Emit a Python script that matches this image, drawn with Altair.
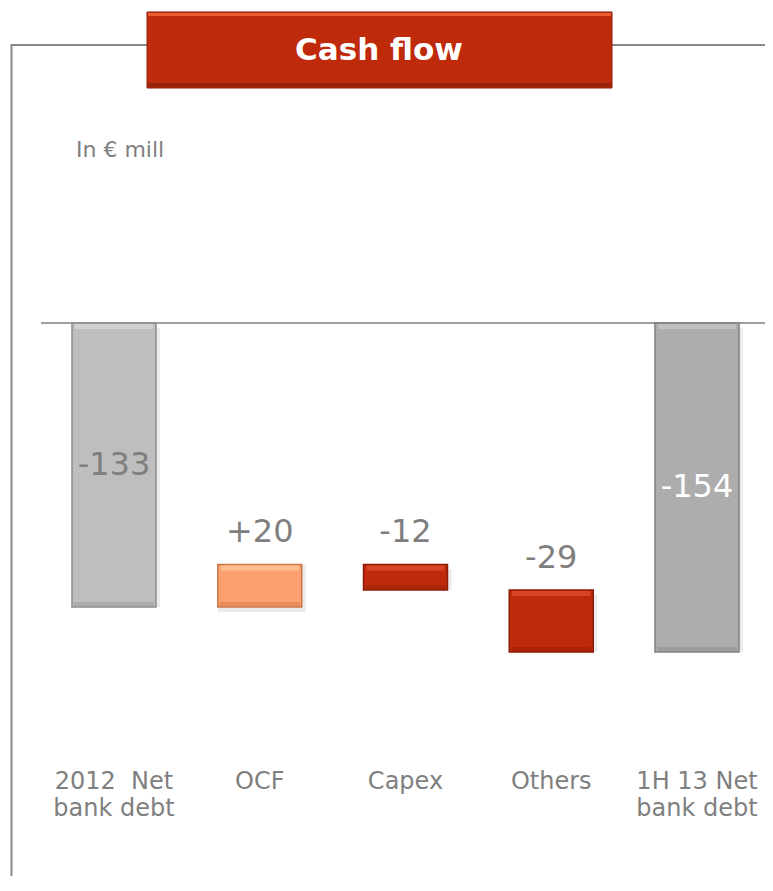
import altair as alt
import pandas as pd

# ---- data ----
categories = ["2012 \u00a0Net\nbank debt", "OCF", "Capex", "Others", "1H 13 Net\nbank debt"]
values = [-133, 20, -12, -29, -154]
kinds = ["total", "delta", "delta", "delta", "total"]
title_text = "Cash flow"
unit_text = "In € mill"

# ---- derived waterfall table ----
rows = []
running = 0
for i, (c, v, k) in enumerate(zip(categories, values, kinds)):
    if k == "total":
        start, end = 0, v
        running = v
    else:
        start, end = running, running + v
        running = end
    rows.append({"idx": i, "cat": c, "value": v, "kind": k,
                 "start": start, "end": end,
                 "top": max(start, end), "bot": min(start, end),
                 "mid": (start + end) / 2,
                 "label": f"{v:+d}"})
df = pd.DataFrame(rows)

# ---- style ----
W, H = 757, 868
FONT = "DejaVu Sans"
GRAY_TXT = "#7F7F7F"
bar_colors = ["#BEBEBE", "#FBA06E", "#BF2A0C", "#BF2A0C", "#ADADAD"]
bar_strokes = ["#8C8C8C", "#C9784A", "#8A1D06", "#8A1D06", "#808080"]
hi_colors = ["#D8D8D8", "#FFC7A2", "#E2512C", "#E2512C", "#C8C8C8"]
lo_colors = ["#A4A4A4", "#E38556", "#A3220A", "#A3220A", "#969696"]

xscale = alt.Scale(domain=[-0.7273, 4.4666], nice=False, zero=False, padding=0)
yscale = alt.Scale(domain=[-258.9, 147.5], nice=False, zero=False, padding=0)
idx_dom = list(range(5))

base = alt.Chart(df)
X = alt.X("idx:Q", scale=xscale, axis=None)

shadow = base.mark_bar(size=88, color="#E2E2E2", opacity=0.7, yOffset=5, xOffset=2).encode(
    x=X, y=alt.Y("start:Q", scale=yscale, axis=None), y2="end:Q",
)

bars = base.mark_bar(size=84, strokeWidth=1.5).encode(
    x=X,
    y=alt.Y("start:Q", scale=yscale, axis=None),
    y2="end:Q",
    color=alt.Color("idx:N", scale=alt.Scale(domain=idx_dom, range=bar_colors), legend=None),
    stroke=alt.Stroke("idx:N", scale=alt.Scale(domain=idx_dom, range=bar_strokes), legend=None),
)

hi = base.mark_tick(orient="horizontal", size=78, thickness=5, yOffset=3.5).encode(
    x=X, y=alt.Y("top:Q", scale=yscale, axis=None),
    color=alt.Color("idx:N", scale=alt.Scale(domain=idx_dom, range=hi_colors), legend=None),
)
lo = base.mark_tick(orient="horizontal", size=80, thickness=4, yOffset=-3).encode(
    x=X, y=alt.Y("bot:Q", scale=yscale, axis=None),
    color=alt.Color("idx:N", scale=alt.Scale(domain=idx_dom, range=lo_colors), legend=None),
)

delta_labels = base.transform_filter("datum.kind == 'delta'").mark_text(
    font=FONT, fontSize=32, color=GRAY_TXT, baseline="alphabetic", dy=-22
).encode(
    x=X, y=alt.Y("top:Q", scale=yscale, axis=None), text="label:N",
)

total_labels = base.transform_filter("datum.kind == 'total'").mark_text(
    font=FONT, fontSize=32, baseline="middle"
).encode(
    x=X, y=alt.Y("mid:Q", scale=yscale, axis=None), text="label:N",
    color=alt.condition("datum.idx == 0", alt.value(GRAY_TXT), alt.value("white")),
)

cat_labels = base.mark_text(
    font=FONT, fontSize=24, color=GRAY_TXT, baseline="alphabetic", lineBreak="\n", lineHeight=27
).encode(
    x=X, y=alt.value(781), text="cat:N",
)

one = pd.DataFrame({"a": [0]})
deco = alt.Chart(one)

zero_line = deco.mark_rule(color="#808080", strokeWidth=1.5).encode(
    x=alt.value(33), x2=alt.value(W), y=alt.value(315)
)
frame_left = deco.mark_rule(color="#8A8A8A", strokeWidth=2).encode(
    x=alt.value(3.5), y=alt.value(37), y2=alt.value(H)
)
frame_top1 = deco.mark_rule(color="#8A8A8A", strokeWidth=2).encode(
    x=alt.value(2.5), x2=alt.value(140), y=alt.value(37)
)
frame_top2 = deco.mark_rule(color="#8A8A8A", strokeWidth=2).encode(
    x=alt.value(603), x2=alt.value(W), y=alt.value(37)
)
title_box = deco.mark_rect(color="#BE2A0A", stroke="#8E1F07", strokeWidth=1).encode(
    x=alt.value(139), x2=alt.value(604), y=alt.value(4), y2=alt.value(80)
)
title_hi = deco.mark_rect(color="#EE5A32").encode(
    x=alt.value(140), x2=alt.value(603), y=alt.value(5), y2=alt.value(8)
)
title_lo = deco.mark_rect(color="#96240A").encode(
    x=alt.value(140), x2=alt.value(603), y=alt.value(75), y2=alt.value(79)
)
title_lbl = deco.mark_text(
    font=FONT, fontSize=31, fontWeight="bold", color="white", baseline="middle", align="center"
).encode(x=alt.value(371), y=alt.value(43), text=alt.value(title_text))

unit_lbl = deco.mark_text(
    font=FONT, fontSize=22, color=GRAY_TXT, baseline="alphabetic", align="left"
).encode(x=alt.value(68), y=alt.value(149), text=alt.value(unit_text))

chart = alt.layer(
    frame_left, frame_top1, frame_top2, title_box, title_hi, title_lo, title_lbl, unit_lbl,
    zero_line, shadow, bars, hi, lo, delta_labels, total_labels, cat_labels,
).resolve_scale(color="independent", stroke="independent").properties(
    width=W, height=H, padding=0,
    autosize=alt.AutoSizeParams(type="none"),
).configure_view(stroke=None)

chart.save("out.html", embed_options={"renderer": "svg", "actions": False})
